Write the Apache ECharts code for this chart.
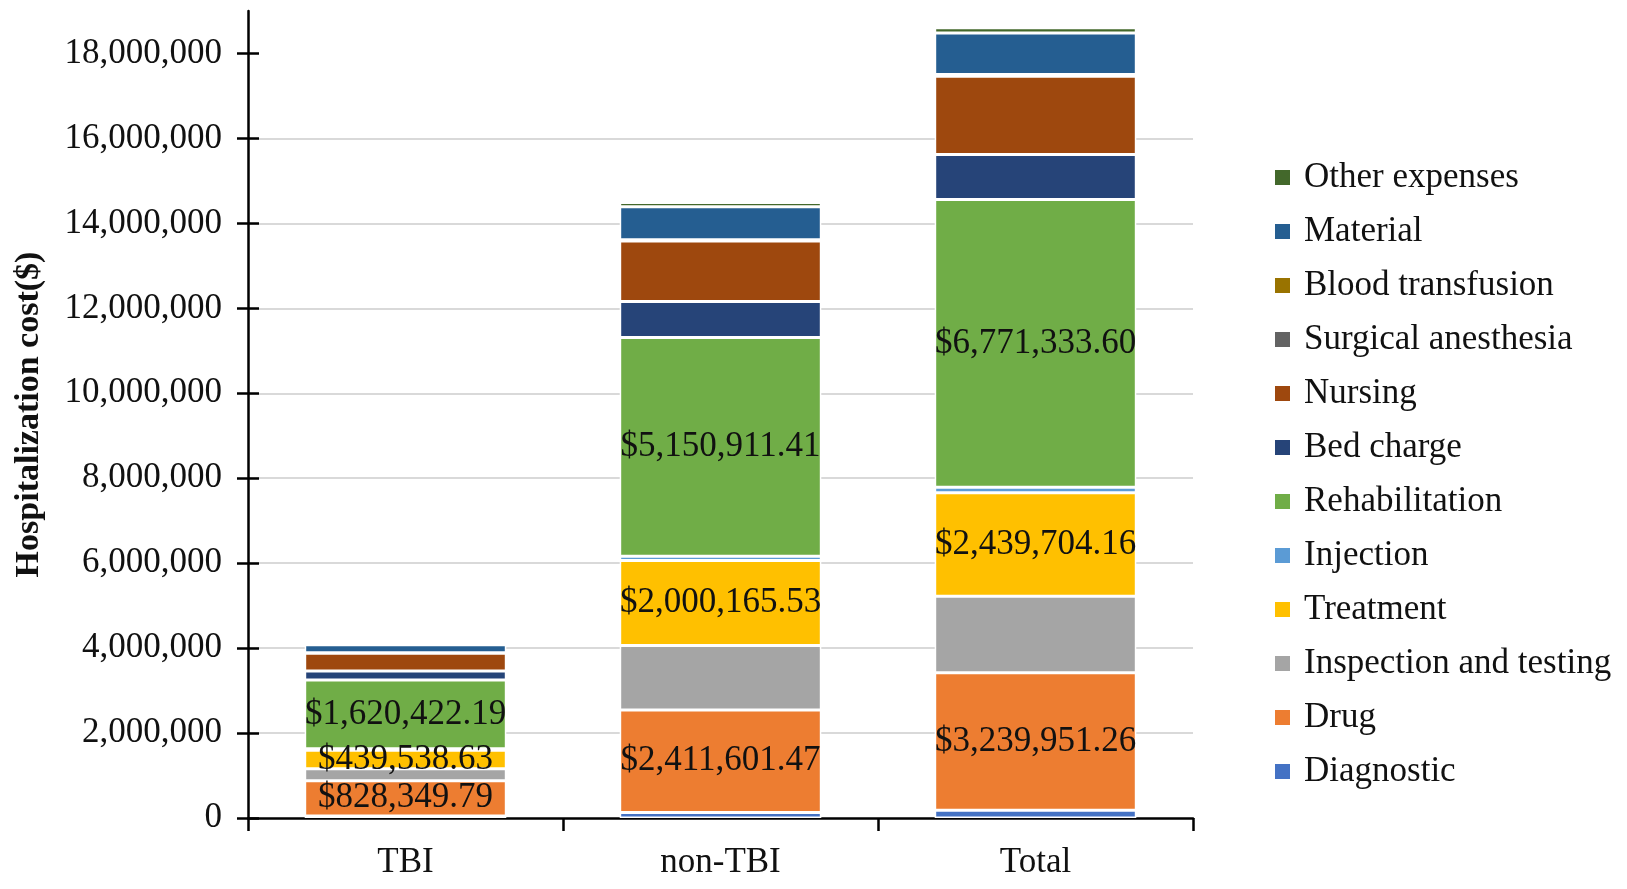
<!DOCTYPE html>
<html lang="en">
<head>
    <meta charset="UTF-8">
    <title>Hospitalization cost</title>
    <script src="https://cdn.jsdelivr.net/npm/echarts@6.0.0/dist/echarts.min.js"></script>
    <style>
        html, body { margin: 0; padding: 0; background: #fff; }
    </style>
</head>
<body>
<div id="main" style="width: 1627px;height:889px;"></div>
<script>
    // bars on the x axis
    let groups = ['TBI', 'non-TBI', 'Total'];

    // cost items, bottom of the stack first
    let diagnostic   = [50000, 130000, 180000];
    let drug         = [828349.79, 2411601.47, 3239951.26];
    let inspection   = [280000, 1520000, 1800000];
    let treatment    = [439538.63, 2000165.53, 2439704.16];
    let injection    = [30000, 100000, 130000];
    let rehab        = [1620422.19, 5150911.41, 6771333.60];
    let bedCharge    = [210000, 850000, 1060000];
    let nursing      = [420000, 1420000, 1840000];
    let surgical     = [8000, 20000, 28000];
    let blood        = [4000, 10000, 14000];
    let material     = [190000, 780000, 980000];
    let otherExp     = [20000, 100000, 120000];

    let yTicks = [0, 2000000, 4000000, 6000000, 8000000, 10000000, 12000000, 14000000, 16000000, 18000000];

    let items = [
        ['Diagnostic', diagnostic, '#4472C4', false],
        ['Drug', drug, '#ED7D31', true],
        ['Inspection and testing', inspection, '#A5A5A5', false],
        ['Treatment', treatment, '#FFC000', true],
        ['Injection', injection, '#5B9BD5', false],
        ['Rehabilitation', rehab, '#70AD47', true],
        ['Bed charge', bedCharge, '#264478', false],
        ['Nursing', nursing, '#9E480E', false],
        ['Surgical anesthesia', surgical, '#636363', false],
        ['Blood transfusion', blood, '#997300', false],
        ['Material', material, '#255E91', false],
        ['Other expenses', otherExp, '#43682B', false]
    ];

    const font = 'Liberation Serif';

    function money(v) {
        return '$' + Number(v).toLocaleString('en-US', {minimumFractionDigits: 2, maximumFractionDigits: 2});
    }

    let series = items.map(function (it) {
        return {
            name: it[0],
            type: 'bar',
            stack: 'cost',
            barWidth: '64%',
            data: it[1],
            itemStyle: {
                color: it[2],
                borderColor: '#fff',
                borderWidth: 1.5
            },
            label: {
                show: it[3],
                position: 'inside',
                formatter: function (p) { return money(p.value); },
                color: '#111',
                fontFamily: font,
                fontSize: 35
            }
        };
    });

    var myChart = echarts.init(document.getElementById('main'));

    let option = {
        backgroundColor: '#fff',
        animation: false,
        grid: {
            left: 248,
            right: 434,
            top: 11,
            bottom: 71
        },
        legend: {
            orient: 'vertical',
            left: 1268,
            top: 155,
            data: items.map(it => it[0]).reverse(),
            icon: 'rect',
            itemWidth: 17,
            itemHeight: 17,
            itemGap: 19,
            textStyle: {
                fontFamily: font,
                fontSize: 35,
                lineHeight: 35,
                color: '#111',
                padding: [0, 0, 0, 8]
            }
        },
        xAxis: {
            type: 'category',
            data: groups,
            axisLine: { lineStyle: { color: '#000', width: 2.5 } },
            axisTick: { show: true, length: 13, lineStyle: { color: '#000', width: 2.5 } },
            axisLabel: {
                fontFamily: font,
                fontSize: 35,
                color: '#111',
                margin: 27
            }
        },
        yAxis: [{
            type: 'value',
            min: 0,
            max: 19000000,
            interval: 2000000,
            name: 'Hospitalization cost($)',
            nameLocation: 'middle',
            nameGap: 202,
            nameTextStyle: {
                fontFamily: font,
                fontSize: 34,
                fontWeight: 'bold',
                color: '#111'
            },
            axisLine: { show: true, lineStyle: { color: '#000', width: 2.5 } },
            axisTick: { show: true, length: 11, customValues: yTicks, lineStyle: { color: '#000', width: 2.5 } },
            axisLabel: {
                customValues: yTicks,
                fontFamily: font,
                fontSize: 35,
                color: '#111',
                margin: 26,
                formatter: function (v) { return v % 2000000 === 0 ? Number(v).toLocaleString('en-US') : ''; }
            },
            splitLine: {
                show: true,
                showMinLine: false,
                showMaxLine: false,
                lineStyle: { color: '#d9d9d9', width: 2 }
            }
        }, {
            // inner half of the crossing ticks
            type: 'value',
            position: 'left',
            min: 0,
            max: 19000000,
            interval: 2000000,
            axisLine: { show: false },
            axisTick: { show: true, inside: true, length: 11, customValues: yTicks, lineStyle: { color: '#000', width: 2.5 } },
            axisLabel: { show: false },
            splitLine: { show: false }
        }],
        series
    };

    myChart.setOption(option);
</script>
</body>
</html>
